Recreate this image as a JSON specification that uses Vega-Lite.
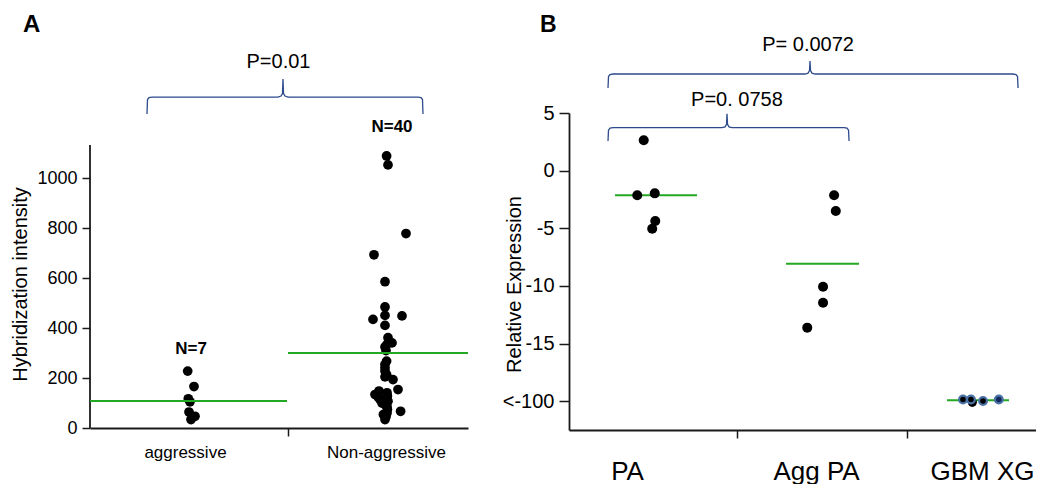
{
  "$schema": "https://vega.github.io/schema/vega-lite/v6.json",
  "padding": {"left": 10, "top": 12, "right": 0, "bottom": 0},
  "spacing": 33,
  "config": {
    "font": "Liberation Sans",
    "view": {"stroke": null},
    "axis": {
      "grid": false,
      "domainColor": "#1a1a1a",
      "domainWidth": 1.8,
      "tickColor": "#1a1a1a",
      "tickWidth": 1.5,
      "labelColor": "#000",
      "titleColor": "#000",
      "labelFont": "Liberation Sans",
      "titleFont": "Liberation Sans",
      "titleFontWeight": "normal",
      "labelFlush": false,
      "labelOverlap": false
    }
  },
  "datasets": {
    "pointsA": [
      {"group": "aggressive", "pos": -0.0015, "intensity": 228},
      {"group": "aggressive", "pos": 0.03, "intensity": 166},
      {"group": "aggressive", "pos": 0.0015, "intensity": 117},
      {"group": "aggressive", "pos": 0.01, "intensity": 105},
      {"group": "aggressive", "pos": 0.005, "intensity": 64},
      {"group": "aggressive", "pos": 0.035, "intensity": 47},
      {"group": "aggressive", "pos": 0.015, "intensity": 34},
      {"group": "Non-aggressive", "pos": 0.993, "intensity": 1090},
      {"group": "Non-aggressive", "pos": 1.0, "intensity": 1054},
      {"group": "Non-aggressive", "pos": 1.09, "intensity": 779},
      {"group": "Non-aggressive", "pos": 0.93, "intensity": 694},
      {"group": "Non-aggressive", "pos": 0.985, "intensity": 586},
      {"group": "Non-aggressive", "pos": 0.985, "intensity": 485},
      {"group": "Non-aggressive", "pos": 0.985, "intensity": 451},
      {"group": "Non-aggressive", "pos": 1.07, "intensity": 449},
      {"group": "Non-aggressive", "pos": 0.925, "intensity": 435},
      {"group": "Non-aggressive", "pos": 0.985, "intensity": 411},
      {"group": "Non-aggressive", "pos": 1.0, "intensity": 362},
      {"group": "Non-aggressive", "pos": 1.02, "intensity": 341},
      {"group": "Non-aggressive", "pos": 0.985, "intensity": 325},
      {"group": "Non-aggressive", "pos": 0.995, "intensity": 335},
      {"group": "Non-aggressive", "pos": 0.99, "intensity": 310},
      {"group": "Non-aggressive", "pos": 0.993, "intensity": 268},
      {"group": "Non-aggressive", "pos": 0.985, "intensity": 255},
      {"group": "Non-aggressive", "pos": 0.985, "intensity": 241},
      {"group": "Non-aggressive", "pos": 0.985, "intensity": 228},
      {"group": "Non-aggressive", "pos": 0.993, "intensity": 214},
      {"group": "Non-aggressive", "pos": 0.985, "intensity": 205},
      {"group": "Non-aggressive", "pos": 1.025, "intensity": 194},
      {"group": "Non-aggressive", "pos": 1.05, "intensity": 154},
      {"group": "Non-aggressive", "pos": 0.955, "intensity": 148},
      {"group": "Non-aggressive", "pos": 0.995, "intensity": 141},
      {"group": "Non-aggressive", "pos": 0.935, "intensity": 134},
      {"group": "Non-aggressive", "pos": 0.997, "intensity": 128},
      {"group": "Non-aggressive", "pos": 0.95, "intensity": 125},
      {"group": "Non-aggressive", "pos": 0.99, "intensity": 120},
      {"group": "Non-aggressive", "pos": 0.96, "intensity": 114},
      {"group": "Non-aggressive", "pos": 1.0, "intensity": 107},
      {"group": "Non-aggressive", "pos": 0.97, "intensity": 100},
      {"group": "Non-aggressive", "pos": 0.985, "intensity": 94},
      {"group": "Non-aggressive", "pos": 0.995, "intensity": 85},
      {"group": "Non-aggressive", "pos": 0.997, "intensity": 74},
      {"group": "Non-aggressive", "pos": 1.063, "intensity": 67},
      {"group": "Non-aggressive", "pos": 0.995, "intensity": 60},
      {"group": "Non-aggressive", "pos": 0.977, "intensity": 54},
      {"group": "Non-aggressive", "pos": 0.99, "intensity": 45},
      {"group": "Non-aggressive", "pos": 0.985, "intensity": 34}
    ],
    "meansA": [
      {"group": "aggressive", "mean": 108, "start": -0.49, "end": 0.495},
      {"group": "Non-aggressive", "mean": 300, "start": 0.5, "end": 1.4}
    ],
    "braceA": [
      {"i": 1, "bx": -0.205, "by": 1258},
      {"i": 2, "bx": -0.2025, "by": 1316},
      {"i": 3, "bx": -0.195, "by": 1324},
      {"i": 4, "bx": -0.18, "by": 1326},
      {"i": 5, "bx": 0.45, "by": 1326},
      {"i": 6, "bx": 0.465, "by": 1330},
      {"i": 7, "bx": 0.4725, "by": 1340},
      {"i": 8, "bx": 0.475, "by": 1398},
      {"i": 9, "bx": 0.4775, "by": 1340},
      {"i": 10, "bx": 0.485, "by": 1330},
      {"i": 11, "bx": 0.5, "by": 1326},
      {"i": 12, "bx": 1.15, "by": 1326},
      {"i": 13, "bx": 1.165, "by": 1324},
      {"i": 14, "bx": 1.1725, "by": 1316},
      {"i": 15, "bx": 1.175, "by": 1258}
    ],
    "pointsB": [
      {"group": "PA", "pos": 0.95, "value": 2.63},
      {"group": "PA", "pos": 0.912, "value": -2.14},
      {"group": "PA", "pos": 1.015, "value": -1.97},
      {"group": "PA", "pos": 1.018, "value": -4.37},
      {"group": "PA", "pos": 1.0, "value": -5.04},
      {"group": "Agg PA", "pos": 2.071, "value": -2.14},
      {"group": "Agg PA", "pos": 2.081, "value": -3.5},
      {"group": "Agg PA", "pos": 2.006, "value": -10.07},
      {"group": "Agg PA", "pos": 2.006, "value": -11.46},
      {"group": "Agg PA", "pos": 1.913, "value": -13.62}
    ],
    "pointsGBM": [
      {"group": "GBM XG", "sample": 1, "pos": 2.83, "value": -19.85},
      {"group": "GBM XG", "sample": 2, "pos": 2.877, "value": -19.85},
      {"group": "GBM XG", "sample": 3, "pos": 2.948, "value": -19.98},
      {"group": "GBM XG", "sample": 4, "pos": 3.041, "value": -19.85}
    ],
    "pointsGBMplain": [
      {"group": "GBM XG", "sample": 5, "pos": 2.885, "value": -20.1}
    ],
    "meansB": [
      {"group": "PA", "mean": -2.14, "start": 0.781, "end": 1.264},
      {"group": "Agg PA", "mean": -8.07, "start": 1.788, "end": 2.218},
      {"group": "GBM XG", "mean": -19.93, "start": 2.736, "end": 3.101}
    ],
    "braceB": [
      {"brace": "outer", "i": 1, "bx": 0.7397, "by": 7.169},
      {"brace": "outer", "i": 2, "bx": 0.7426, "by": 8.166},
      {"brace": "outer", "i": 3, "bx": 0.7515, "by": 8.34},
      {"brace": "outer", "i": 4, "bx": 0.7691, "by": 8.383},
      {"brace": "outer", "i": 5, "bx": 1.8999, "by": 8.383},
      {"brace": "outer", "i": 6, "bx": 1.9175, "by": 8.453},
      {"brace": "outer", "i": 7, "bx": 1.9264, "by": 8.687},
      {"brace": "outer", "i": 8, "bx": 1.9293, "by": 9.511},
      {"brace": "outer", "i": 9, "bx": 1.9323, "by": 8.687},
      {"brace": "outer", "i": 10, "bx": 1.9411, "by": 8.453},
      {"brace": "outer", "i": 11, "bx": 1.9588, "by": 8.383},
      {"brace": "outer", "i": 12, "bx": 3.1248, "by": 8.383},
      {"brace": "outer", "i": 13, "bx": 3.1425, "by": 8.34},
      {"brace": "outer", "i": 14, "bx": 3.1513, "by": 8.166},
      {"brace": "outer", "i": 15, "bx": 3.1543, "by": 7.169},
      {"brace": "inner", "i": 1, "bx": 0.7397, "by": 2.571},
      {"brace": "inner", "i": 2, "bx": 0.7426, "by": 3.508},
      {"brace": "inner", "i": 3, "bx": 0.7515, "by": 3.681},
      {"brace": "inner", "i": 4, "bx": 0.7691, "by": 3.725},
      {"brace": "inner", "i": 5, "bx": 1.4111, "by": 3.725},
      {"brace": "inner", "i": 6, "bx": 1.4288, "by": 3.794},
      {"brace": "inner", "i": 7, "bx": 1.4376, "by": 4.028},
      {"brace": "inner", "i": 8, "bx": 1.4405, "by": 4.939},
      {"brace": "inner", "i": 9, "bx": 1.4435, "by": 4.028},
      {"brace": "inner", "i": 10, "bx": 1.4523, "by": 3.794},
      {"brace": "inner", "i": 11, "bx": 1.4699, "by": 3.725},
      {"brace": "inner", "i": 12, "bx": 2.1296, "by": 3.725},
      {"brace": "inner", "i": 13, "bx": 2.1473, "by": 3.681},
      {"brace": "inner", "i": 14, "bx": 2.1561, "by": 3.508},
      {"brace": "inner", "i": 15, "bx": 2.1591, "by": 2.571}
    ]
  },
  "hconcat": [
    {
      "width": 378,
      "height": 315,
      "layer": [
        {
          "data": {"name": "pointsA"},
          "mark": {"type": "circle", "size": 95, "color": "#000", "opacity": 1},
          "encoding": {
            "x": {
              "field": "pos", "type": "quantitative",
              "scale": {"domain": [-0.49, 1.4], "nice": false, "zero": false},
              "axis": {
                "title": null,
                "values": [-0.015, 0.4975, 0.99],
                "labelExpr": "datum.value < 0.2 ? 'aggressive' : (datum.value > 0.8 ? 'Non-aggressive' : '')",
                "tickOpacity": {"condition": {"test": "datum.value > 0.2 && datum.value < 0.8", "value": 1}, "value": 0},
                "tickSize": 8,
                "labelPadding": 8,
                "labelFontSize": 17
              }
            },
            "y": {
              "field": "intensity", "type": "quantitative",
              "scale": {"domain": [0, 1262], "nice": false},
              "axis": {
                "title": "Hybridization intensity",
                "titleFontSize": 20,
                "titleX": -60,
                "titleY": 171,
                "domain": false,
                "values": [0, 200, 400, 600, 800, 1000],
                "format": "d",
                "tickSize": 8,
                "labelPadding": 5,
                "labelFontSize": 18
              }
            }
          }
        },
        {
          "data": {"values": [{}]},
          "mark": {"type": "rule", "color": "#1a1a1a", "strokeWidth": 1.8},
          "encoding": {
            "x": {"datum": -0.49, "type": "quantitative"},
            "y": {"datum": 0, "type": "quantitative"},
            "y2": {"datum": 1134}
          }
        },
        {
          "data": {"name": "meansA"},
          "mark": {"type": "rule", "color": "#22a822", "strokeWidth": 2},
          "encoding": {
            "x": {"field": "start", "type": "quantitative"},
            "x2": {"field": "end"},
            "y": {"field": "mean", "type": "quantitative"}
          }
        },
        {
          "data": {"name": "braceA"},
          "mark": {"type": "line", "color": "#2d4a8c", "strokeWidth": 1.3},
          "encoding": {
            "x": {"field": "bx", "type": "quantitative"},
            "y": {"field": "by", "type": "quantitative"},
            "order": {"field": "i", "type": "quantitative"}
          }
        },
        {
          "data": {"values": [{}]},
          "mark": {"type": "text", "fontSize": 24, "fontWeight": "bold", "align": "left", "baseline": "alphabetic"},
          "encoding": {
            "x": {"datum": -0.825, "type": "quantitative"},
            "y": {"datum": 1587, "type": "quantitative"},
            "text": {"value": "A"}
          }
        },
        {
          "data": {"values": [{}]},
          "mark": {"type": "text", "fontSize": 20, "align": "center", "baseline": "alphabetic"},
          "encoding": {
            "x": {"datum": 0.4525, "type": "quantitative"},
            "y": {"datum": 1442, "type": "quantitative"},
            "text": {"value": "P=0.01"}
          }
        },
        {
          "data": {"values": [{}]},
          "mark": {"type": "text", "fontSize": 17, "fontWeight": "bold", "align": "center", "baseline": "alphabetic"},
          "encoding": {
            "x": {"datum": 0.015, "type": "quantitative"},
            "y": {"datum": 297, "type": "quantitative"},
            "text": {"value": "N=7"}
          }
        },
        {
          "data": {"values": [{}]},
          "mark": {"type": "text", "fontSize": 17, "fontWeight": "bold", "align": "center", "baseline": "alphabetic"},
          "encoding": {
            "x": {"datum": 1.02, "type": "quantitative"},
            "y": {"datum": 1186, "type": "quantitative"},
            "text": {"value": "N=40"}
          }
        }
      ]
    },
    {
      "width": 467,
      "height": 317,
      "layer": [
        {
          "data": {"name": "meansB"},
          "mark": {"type": "rule", "color": "#22a822", "strokeWidth": 2},
          "encoding": {
            "x": {
              "field": "start", "type": "quantitative",
              "scale": {"domain": [0.51, 3.26], "nice": false, "zero": false},
              "axis": {
                "title": null,
                "values": [0.852, 1.5, 1.965, 2.5, 2.942],
                "labelExpr": "(datum.value == 1.5 || datum.value == 2.5) ? '' : (datum.value < 1.2 ? 'PA' : (datum.value < 2.2 ? 'Agg PA' : 'GBM XG'))",
                "tickOpacity": {"condition": {"test": "datum.value == 1.5 || datum.value == 2.5", "value": 1}, "value": 0},
                "tickSize": 8,
                "labelPadding": 20,
                "labelFontSize": 26
              }
            },
            "x2": {"field": "end"},
            "y": {
              "field": "mean", "type": "quantitative",
              "scale": {"domain": [-22.5, 5], "nice": false, "zero": false},
              "axis": {
                "title": "Relative Expression",
                "titleFontSize": 20,
                "titleX": -45,
                "titleY": 171,
                "values": [-20, -17.5, -15, -12.5, -10, -7.5, -5, -2.5, 0, 2.5, 5],
                "labelExpr": "datum.value == -20 ? '<-100' : (datum.value % 5 == 0 ? '' + datum.value : '')",
                "tickSize": {"condition": {"test": "datum.value % 5 != 0", "value": 5}, "value": 10},
                "labelPadding": 5,
                "labelFontSize": 20
              }
            }
          }
        },
        {
          "data": {"name": "pointsB"},
          "mark": {"type": "circle", "size": 100, "color": "#000", "opacity": 1},
          "encoding": {
            "x": {"field": "pos", "type": "quantitative"},
            "y": {"field": "value", "type": "quantitative"}
          }
        },
        {
          "data": {"name": "pointsGBMplain"},
          "mark": {"type": "circle", "size": 85, "color": "#000", "opacity": 1},
          "encoding": {
            "x": {"field": "pos", "type": "quantitative"},
            "y": {"field": "value", "type": "quantitative"}
          }
        },
        {
          "data": {"name": "pointsGBM"},
          "mark": {"type": "point", "shape": "circle", "filled": false, "size": 60, "stroke": "#4a72a6", "strokeWidth": 2.2, "opacity": 1},
          "encoding": {
            "x": {"field": "pos", "type": "quantitative"},
            "y": {"field": "value", "type": "quantitative"},
            "fill": {"condition": {"test": "datum.sample == 4", "value": "#14285e"}, "value": "#000"},
            "fillOpacity": {"value": 1}
          }
        },
        {
          "data": {"name": "braceB"},
          "mark": {"type": "line", "color": "#2d4a8c", "strokeWidth": 1.3},
          "encoding": {
            "x": {"field": "bx", "type": "quantitative"},
            "y": {"field": "by", "type": "quantitative"},
            "detail": {"field": "brace", "type": "nominal"},
            "order": {"field": "i", "type": "quantitative"}
          }
        },
        {
          "data": {"values": [{}]},
          "mark": {"type": "text", "fontSize": 23, "fontWeight": "bold", "align": "left", "baseline": "alphabetic"},
          "encoding": {
            "x": {"datum": 0.339, "type": "quantitative"},
            "y": {"datum": 12.03, "type": "quantitative"},
            "text": {"value": "B"}
          }
        },
        {
          "data": {"values": [{}]},
          "mark": {"type": "text", "fontSize": 20, "align": "center", "baseline": "alphabetic"},
          "encoding": {
            "x": {"datum": 1.918, "type": "quantitative"},
            "y": {"datum": 10.38, "type": "quantitative"},
            "text": {"value": "P= 0.0072"}
          }
        },
        {
          "data": {"values": [{}]},
          "mark": {"type": "text", "fontSize": 20, "align": "center", "baseline": "alphabetic"},
          "encoding": {
            "x": {"datum": 1.499, "type": "quantitative"},
            "y": {"datum": 5.607, "type": "quantitative"},
            "text": {"value": "P=0. 0758"}
          }
        }
      ]
    }
  ]
}
